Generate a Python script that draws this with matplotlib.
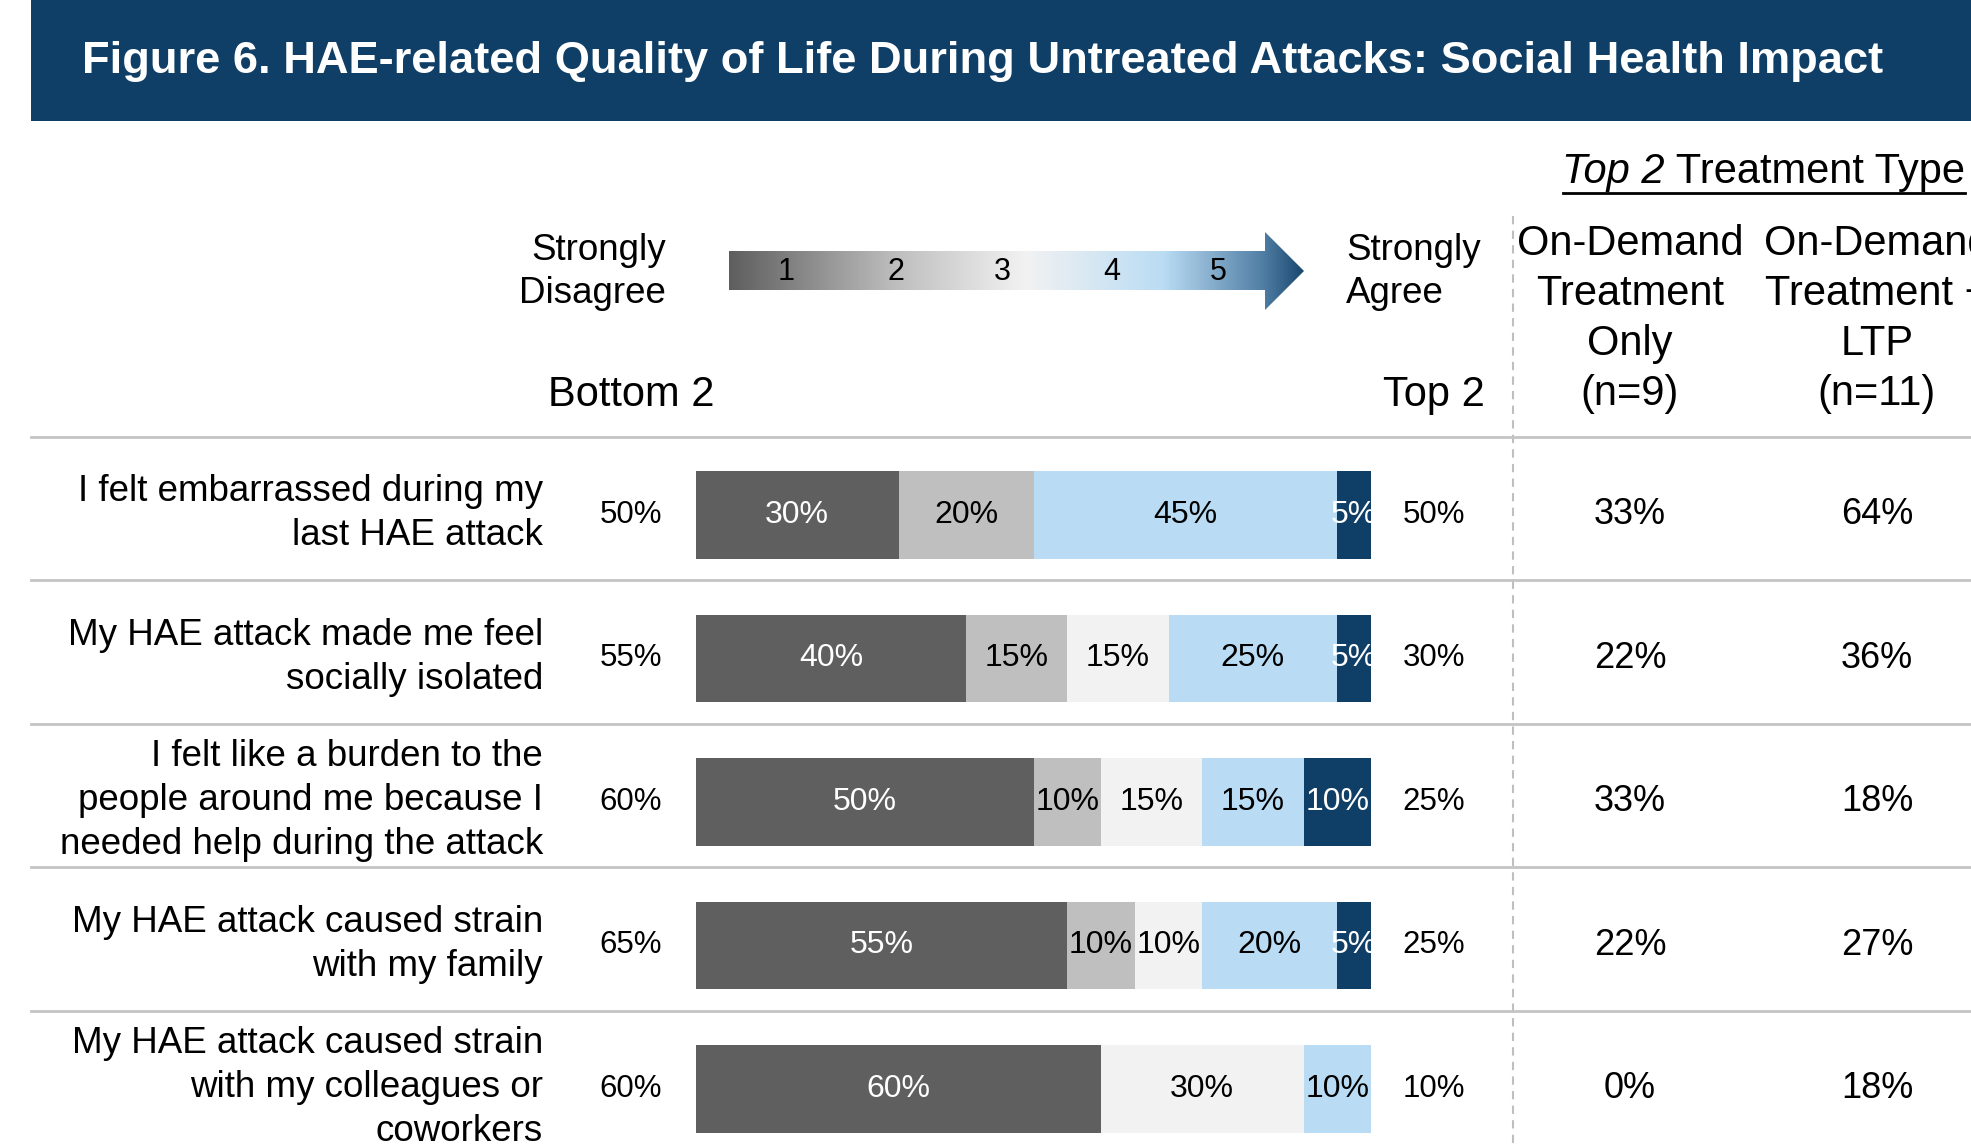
import matplotlib
matplotlib.use("Agg")
import matplotlib.pyplot as plt
import numpy as np
from matplotlib.colors import LinearSegmentedColormap
from matplotlib.patches import Polygon, Rectangle
from matplotlib.transforms import blended_transform_factory

plt.rcParams['font.family'] = ['Liberation Sans', 'DejaVu Sans']

title = "Figure 6. HAE-related Quality of Life During Untreated Attacks: Social Health Impact"
statements = [
    "I felt embarrassed during my\nlast HAE attack",
    "My HAE attack made me feel\nsocially isolated",
    "I felt like a burden to the\npeople around me because I\nneeded help during the attack",
    "My HAE attack caused strain\nwith my family",
    "My HAE attack caused strain\nwith my colleagues or\ncoworkers",
]
score_1 = [30, 40, 50, 55, 60]
score_2 = [20, 15, 10, 10, 0]
score_3 = [0, 15, 15, 10, 30]
score_4 = [45, 25, 15, 20, 10]
score_5 = [5, 5, 10, 5, 0]
bottom_2 = [50, 55, 60, 65, 60]
top_2 = [50, 30, 25, 25, 10]
on_demand_only = [33, 22, 33, 22, 0]
on_demand_ltp = [64, 36, 18, 27, 18]
col_headers = ["On-Demand\nTreatment\nOnly\n(n=9)", "On-Demand\nTreatment +\nLTP\n(n=11)"]
scale_ticks = ["1", "2", "3", "4", "5"]

navy = "#0F3F66"
seg_colors = ["#5F5F5F", "#BFBFBF", "#F2F2F2", "#B9DCF4", navy]
seg_text = ["white", "black", "black", "black", "white"]

W, H = 1971, 1147
fig = plt.figure(figsize=(W / 100, H / 100), dpi=100)

# background axes in pixel coordinates for decoration
bg = fig.add_axes([0, 0, 1, 1])
bg.set_xlim(0, W)
bg.set_ylim(H, 0)
bg.axis("off")

# bar axes: x in percent, y in row index
bar_left, bar_right = 696, 1371
row0_y, row_step = 515, 143.5
ax = fig.add_axes([bar_left / W, 0, (bar_right - bar_left) / W, 1])
ax.set_xlim(0, 100)
ax.set_ylim((H - row0_y) / row_step, -row0_y / row_step)
ax.axis("off")
ax.patch.set_alpha(0)

trans = blended_transform_factory(bg.transData, ax.transData)

# header band
bg.add_patch(Rectangle((31, 0), W - 31, 121, color=navy, lw=0))
bg.text(82, 61, title, color="white", fontsize=32.6, fontweight="bold", va="center", ha="left")

# gradient arrow
cmap = LinearSegmentedColormap.from_list("likert", [
    (0.0, "#5E5E5E"), (0.29, "#BEBEBE"), (0.515, "#F2F2F2"),
    (0.757, "#BADCF4"), (0.932, "#4F7DA3"), (1.0, "#1A4870")])
ax0, ax1, ytop, ybot = 729, 1304, 232, 310
arrow = Polygon([(729, 251), (1265, 251), (1265, 232), (1304, 271),
                 (1265, 310), (1265, 290), (729, 290)], closed=True,
                facecolor="none", edgecolor="none")
bg.add_patch(arrow)
grad = np.linspace(0, 1, 512).reshape(1, -1)
im = bg.imshow(grad, cmap=cmap, extent=[ax0, ax1, ybot, ytop], aspect="auto", zorder=1)
im.set_clip_path(arrow)
bg.set_xlim(0, W)
bg.set_ylim(H, 0)
for lab, x in zip(scale_ticks, [786, 896, 1002, 1112, 1218]):
    bg.text(x, 272, lab, fontsize=22, ha="center", va="center", zorder=2)

bg.text(666, 272, "Strongly\nDisagree", fontsize=26.5, ha="right", va="center", linespacing=1.3)
bg.text(1346, 272, "Strongly\nAgree", fontsize=26.5, ha="left", va="center", linespacing=1.3)
bg.text(631, 395, "Bottom 2", fontsize=30, ha="center", va="center")
bg.text(1434, 395, "Top 2", fontsize=30, ha="center", va="center")

# Top 2 Treatment Type header (italic + underline)
fig.canvas.draw()
r = fig.canvas.get_renderer()
t2 = bg.text(1965, 172, " Treatment Type", fontsize=30, ha="right", va="center")
w2 = t2.get_window_extent(r).width
t1 = bg.text(1965 - w2, 172, "Top 2", fontsize=30, style="italic", ha="right", va="center")
w1 = t1.get_window_extent(r).width
bg.plot([1965 - w2 - w1, 1965], [193, 193], color="black", lw=2)

col_x = [1630, 1877]
for x, hdr in zip(col_x, col_headers):
    bg.text(x, 319, hdr, fontsize=30, ha="center", va="center", linespacing=1.32)

# dashed divider
bg.plot([1513, 1513], [216, H], color="#BFBFBF", lw=1.5, ls=(0, (4, 3)))

# row separators
for i in range(len(statements)):
    bg.plot([31, W], [i - 0.545, i - 0.545], color="#C4C4C4", lw=2, transform=trans)

# stacked bars
y = np.arange(len(statements))
left = np.zeros(len(statements))
for seg, col, tc in zip([score_1, score_2, score_3, score_4, score_5], seg_colors, seg_text):
    vals = np.array(seg, dtype=float)
    ax.barh(y, vals, left=left, height=0.61, color=col, lw=0)
    for yi, (l, v) in enumerate(zip(left, vals)):
        if v > 0:
            ax.text(l + v / 2, yi, f"{int(v)}%", color=tc, fontsize=23, ha="center", va="center")
    left += vals

for i, s in enumerate(statements):
    bg.text(543, i - 0.01, s, fontsize=26.5, ha="right", va="center", linespacing=1.33, transform=trans)
    bg.text(631, i, f"{bottom_2[i]}%", fontsize=22.5, ha="center", va="center", transform=trans)
    bg.text(1434, i, f"{top_2[i]}%", fontsize=22.5, ha="center", va="center", transform=trans)
    bg.text(col_x[0], i, f"{on_demand_only[i]}%", fontsize=26, ha="center", va="center", transform=trans)
    bg.text(col_x[1], i, f"{on_demand_ltp[i]}%", fontsize=26, ha="center", va="center", transform=trans)

fig.savefig("out.png", dpi=100, facecolor="white")
